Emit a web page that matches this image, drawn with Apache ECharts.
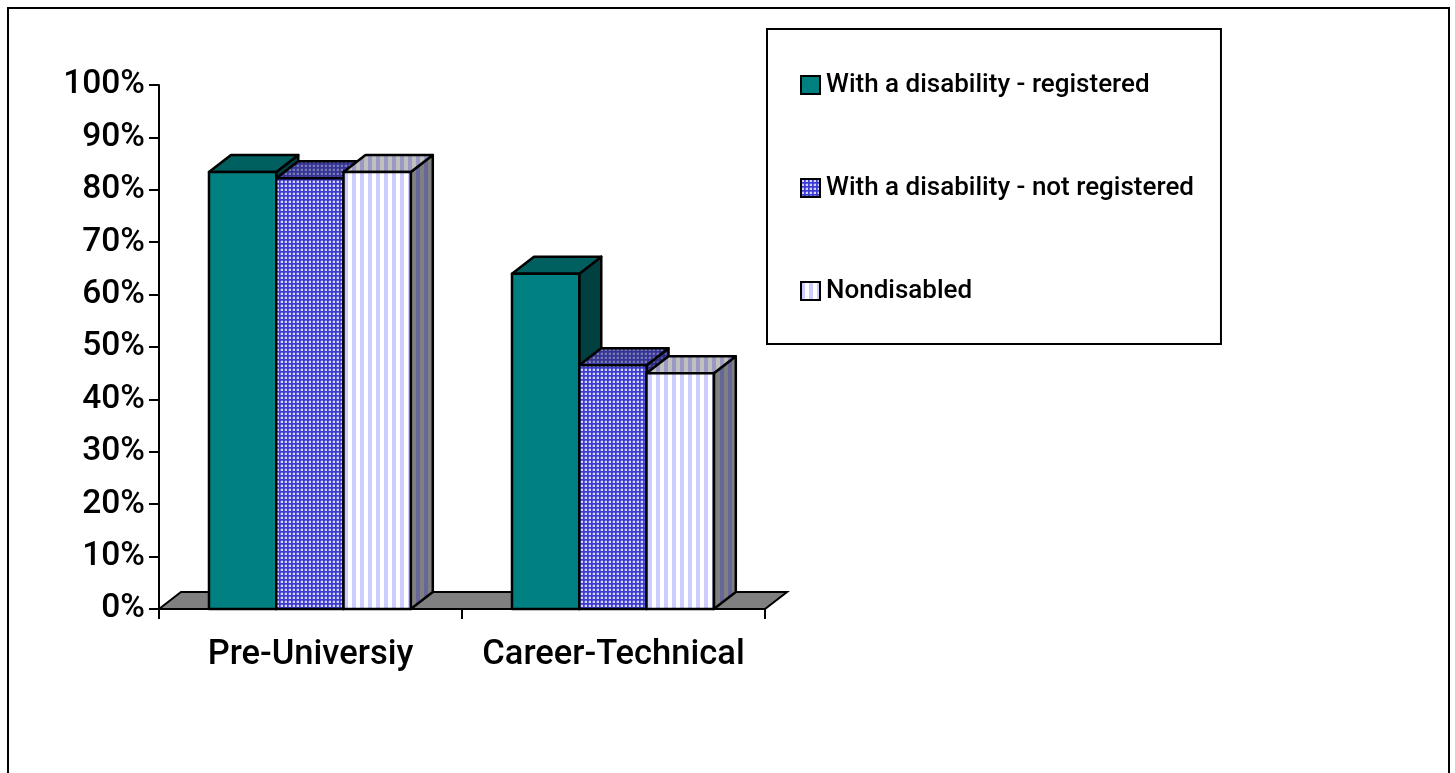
<!DOCTYPE html>
<html><head><meta charset="utf-8">
<style>html,body{margin:0;padding:0;background:#fff;overflow:hidden}#c{width:1455px;height:773px}</style>
<script src="https://cdn.jsdelivr.net/npm/echarts@6/dist/echarts.min.js"></script>
</head><body><div id="c"></div>
<script>
const categories = ['Pre-Universiy', 'Career-Technical'];
const tickLabels = ['0%','10%','20%','30%','40%','50%','60%','70%','80%','90%','100%'];
const registered = [83.4, 64];
const notRegistered = [82.2, 46.5];
const nondisabled = [83.4, 45];
const seriesNames = ['With a disability - registered', 'With a disability - not registered', 'Nondisabled'];

const FONT = 'Roboto, "Liberation Sans", Arial, sans-serif';
const DX = 22, DY = -17;

function tile(w, h, bg, draw) {
  const c = document.createElement('canvas'); c.width = w; c.height = h;
  const g = c.getContext('2d'); g.fillStyle = bg; g.fillRect(0,0,w,h); draw(g);
  return {image: c, repeat: 'repeat'};
}
const dots = (bg, fg) => tile(4, 4, bg, g => {
  g.fillStyle = fg; g.fillRect(1,1,2,2);
  g.globalAlpha = .3; g.fillRect(0,1,1,2); g.fillRect(1,0,2,1);
});
const stripes = (a, b) => tile(8, 8, a, g => { g.fillStyle = b; g.fillRect(0,0,4,8); });

const faces = [
  {front:'#008080', top:'#005f5f', side:'#004040'},
  {front:dots('#3c3cd0','#d4d4fa'), top:dots('#333399','#7a7ab0'), side:dots('#2a2a88','#55558f')},
  {front:stripes('#ffffff','#ccccff'), top:stripes('#c0c0c0','#9999c4'), side:stripes('#808080','#666699')}
];

function poly(pts, fill) {
  return {type:'polygon', shape:{points:pts}, style:{fill, stroke:'#000', lineWidth:2.5, lineJoin:'round'}};
}
function barItem(s) {
  return function (params, api) {
    const i = api.value(0);
    const band = api.size([1,0])[0];
    const base = api.coord([i, 0]);
    const top = api.coord([i, api.value(1)]);
    const w = band * 0.222;
    const x0 = base[0] - band/2 + band*0.165 + s*w;
    const x1 = x0 + w, y0 = base[1], y1 = top[1];
    const f = faces[s];
    return {type:'group', children:[
      poly([[x1,y1],[x1+DX,y1+DY],[x1+DX,y0+DY],[x1,y0]], f.side),
      poly([[x0,y1],[x0+DX,y1+DY],[x1+DX,y1+DY],[x1,y1]], f.top),
      poly([[x0,y1],[x1,y1],[x1,y0],[x0,y0]], f.front)
    ]};
  };
}
function floorItem(params, api) {
  const a = api.coord([0, 0]), band = api.size([1,0])[0];
  const l = a[0]-band/2, r = l + band*categories.length, y = a[1];
  return {type:'polygon', shape:{points:[[l,y],[l+DX,y+DY],[r+DX,y+DY],[r,y]]},
    style:{fill:'#808080', stroke:'#000', lineWidth:2}};
}
const mk = (s, vals) => ({
  type:'custom', name:seriesNames[s], renderItem:barItem(s), z:3+s, silent:true,
  encode:{x:0,y:1}, itemStyle:{color:faces[s].front, borderColor:'#000', borderWidth:2.5},
  data: vals.map((v,i)=>[i,v])
});

const chart = echarts.init(document.getElementById('c'), null, {renderer:'canvas'});
chart.setOption({
  animation:false, backgroundColor:'#fff',
  grid:{left:159, top:85, width:606, height:524, containLabel:false},
  xAxis:{type:'category', data:categories, boundaryGap:true,
    axisLine:{lineStyle:{color:'#000',width:2}},
    axisTick:{show:true, alignWithLabel:false, length:10, lineStyle:{color:'#000',width:2}},
    axisLabel:{color:'#000', fontFamily:FONT, fontWeight:500, fontSize:34.5, margin:29, interval:0}},
  yAxis:{type:'value', min:0, max:100, interval:10,
    axisLine:{show:true, lineStyle:{color:'#000',width:2}},
    axisTick:{show:true, length:10, lineStyle:{color:'#000',width:2}},
    splitLine:{show:false},
    axisLabel:{color:'#000', fontFamily:FONT, fontWeight:500, fontSize:33.5, margin:14, formatter:v=>tickLabels[v/10]}},
  legend:{show:true, orient:'vertical', left:767, top:29, align:'left',
    data:seriesNames, selectedMode:false, icon:'rect',
    itemWidth:19, itemHeight:18, itemGap:77,
    padding:[43,27,40,33], borderColor:'#000', borderWidth:2, backgroundColor:'#fff',
    textStyle:{color:'#000', fontFamily:FONT, fontWeight:500, fontSize:26, padding:[0,0,0,1]}},
  graphic:[{type:'rect', z:-1, shape:{x:8,y:8,width:1441,height:800}, style:{fill:'none',stroke:'#000',lineWidth:2}}],
  series:[
    {type:'custom', name:'floor', renderItem:floorItem, z:1, silent:true, encode:{x:0,y:1}, data:[[0,0]]},
    mk(0, registered), mk(1, notRegistered), mk(2, nondisabled)
  ]
});
</script></body></html>
